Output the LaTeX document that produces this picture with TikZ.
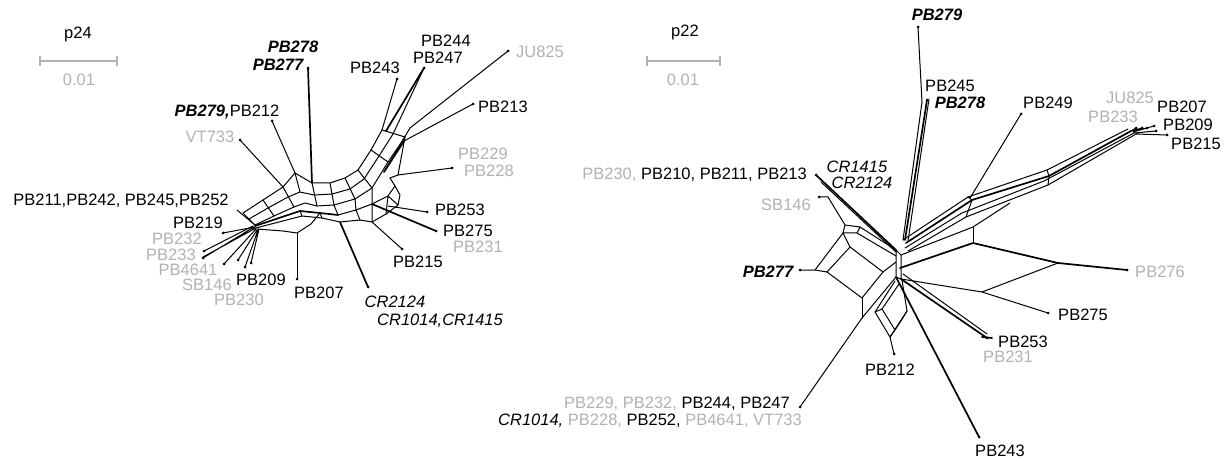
\documentclass[tikz,border=0pt]{standalone}
\usepackage{fontspec}
\setmainfont{Liberation Sans}
\usetikzlibrary{calc}
\definecolor{lg}{gray}{0.70}
\tikzset{
  net/.style={line width=1pt, black, line join=round, line cap=round},
  heavy/.style={net, line width=1.7pt},
  lab/.style={font=\fontsize{16.5}{19}\selectfont, inner sep=0pt, text height=11.8pt, text depth=0pt},
  glab/.style={lab, text=lg},
  ilab/.style={lab, font=\fontsize{16.5}{19}\selectfont\itshape},
  bilab/.style={lab, font=\fontsize{16.5}{19}\selectfont\bfseries\itshape},
  bar/.style={lg, line width=1.2pt}
}
\begin{document}
\begin{tikzpicture}[x=1pt,y=-1pt]
\useasboundingbox (0,0) rectangle (1230,462);

% ---------------- p24 ----------------
\node[lab] (t24) at (78,33) {p24};
\coordinate (sa) at (40,61); \coordinate (sb) at (117,61);
\draw[bar] (sa) -- (sb) ($(sa)+(0,-5)$) -- ($(sa)+(0,5)$) ($(sb)+(0,-5)$) -- ($(sb)+(0,5)$);
\node[glab] (s24) at (79,80) {0.01};

% leaf tips
\foreach \n/\p in {a277/{308,68},a212/{272,121},a733/{240,140},a243/{397,79},a247/{424,68},
  a825/{508,51},a213/{473,104},a229/{452,168},a252/{237,210},a219/{223,233},a232/{204,251},
  a233/{203,258},a4641/{224,264},a146/{238,260},a230/{245,267},a209/{251,263},a207/{297,279},
  a2124/{368,287},a215/{402,249},a275/{436,231},a253/{427,212}}
  \coordinate (\n) at (\p);
\foreach \n in {a277,a212,a733,a243,a247,a825,a213,a229,a219,a232,a233,a4641,a146,a230,a209,a207,a2124,a215,a275,a253}
  \fill (\n) circle (1.5pt);

% arch of boxes
\draw[net] (243,213) -- (263,200) -- (283,187) -- (295,173) -- (312,183) -- (330,183) -- (345,178) -- (358,170) -- (371,150) -- (382,130);
\draw[net] (249,219) -- (268,208) -- (288,197) -- (300,192) -- (314,195) -- (332,194) -- (350,189) -- (364,179) -- (379,156) -- (393,134);
\draw[net] (255,225) -- (274,216) -- (294,207) -- (305,203) -- (317,206) -- (334,205) -- (355,199) -- (372,188) -- (388,162) -- (405,137);
\draw[net] (243,213) -- (255,225) (263,200) -- (274,216) (283,187) -- (294,207)
  (295,173) -- (300,192) (312,183) -- (317,206) (330,183) -- (334,205) (345,178) -- (355,199)
  (358,170) -- (372,188) (371,150) -- (388,162) (382,130) -- (405,137);
% lower strands
\draw[heavy] (255,226) -- (300,211) -- (320,213) -- (338,215);
\draw[net] (252,229) -- (302,216) -- (322,218) -- (340,222);
\draw[net] (257,229) -- (283,231) -- (297,233) -- (311,224) -- (320,213);
\draw[net] (300,211) -- (302,216) (320,213) -- (322,218);
\draw[net] (338,215) -- (356,210) -- (372,204) -- (388,196) -- (395,186) -- (390,178);
\draw[net] (340,222) -- (360,220) -- (372,222) -- (386,214) -- (398,205) -- (400,195) -- (395,186);
\draw[net] (356,210) -- (360,220) (372,204) -- (372,222) (388,196) -- (386,214) (388,196) -- (398,205);
\draw[net] (334,205) -- (338,215) (355,199) -- (356,210) (372,188) -- (372,204);
\draw[net] (405,137) -- (398,175) -- (390,178);
\draw[heavy] (404,141) -- (384,172);
% leaf edges
\draw[heavy] (a277) -- (312,183);
\draw[net] (a212) -- (295,173);
\draw[net] (a733) -- (283,187);
\draw[net] (a243) -- (382,130);
\draw[heavy] (a247) -- (386,131);
\draw[net] (a247) -- (393,134);
\draw[net] (a825) -- (410,128) -- (384,172);
\draw[net] (a213) -- (404,141);
\draw[net] (a229) -- (398,175);
\draw[net] (a252) -- (255,225);
\draw[net] (a219) -- (255,227);
\draw[net] (a232) -- (253,226) (a233) -- (254,227) (203,257) -- (256,228);
\draw[net] (a4641) -- (256,229) (a146) -- (257,230) (a230) -- (258,230) (a209) -- (259,229);
\draw[net] (a207) -- (297,233);
\draw[heavy] (a2124) -- (340,222);
\draw[net] (a215) -- (372,222);
\draw[heavy] (a275) -- (372,204);
\draw[net] (a253) -- (388,206);

% labels
\node[bilab] (n278) at (293,47) {PB278};
\node[bilab] (n277) at (278,65) {PB277};
\node[lab] (n243) at (375,68) {PB243};
\node[lab] (n244) at (446,41) {PB244};
\node[lab] (n247) at (438,58) {PB247};
\node[glab] (n825) at (540,52) {JU825};
\node[lab] (n213) at (503,107) {PB213};
\node[glab] (n229) at (483,154) {PB229};
\node[glab] (n228) at (489,171) {PB228};
\node[lab] (n212) at (227,111) {\bfseries\itshape PB279,\normalfont PB212};
\node[glab] (n733) at (210,137) {VT733};
\node[lab] (n252) at (121,200) {PB211,PB242, PB245,PB252};
\node[lab] (n219) at (198,223) {PB219};
\node[glab] (n232) at (177,239) {PB232};
\node[glab] (n233) at (171,255) {PB233};
\node[glab] (n4641) at (188,270) {PB4641};
\node[glab] (n146) at (207,285) {SB146};
\node[lab] (n209) at (261,280) {PB209};
\node[glab] (n230) at (239,300) {PB230};
\node[lab] (n207) at (319,293) {PB207};
\node[ilab] (n2124) at (395,302) {CR2124};
\node[ilab] (n1014) at (440,320) {CR1014,CR1415};
\node[lab] (n215) at (418,262) {PB215};
\node[lab] (n253) at (460,210) {PB253};
\node[lab] (n275) at (468,231) {PB275};
\node[glab] (n231) at (478,247) {PB231};

% ---------------- p22 ----------------
\node[lab] (t22) at (685,31) {p22};
\coordinate (sc) at (647,61); \coordinate (sd) at (720,61);
\draw[bar] (sc) -- (sd) ($(sc)+(0,-5)$) -- ($(sc)+(0,5)$) ($(sd)+(0,-5)$) -- ($(sd)+(0,5)$);
\node[glab] (s22) at (683,80) {0.01};

\foreach \n/\p in {b279/{918,27},b278/{927,100},b249/{1021,114},b276/{1127,270},b275/{1048,313},
  b253/{987,338},b243/{979,437},b212/{894,354},b244/{800,407},b277/{800,270},b146/{819,197},b213/{816,175},
  r1/{1136,128},r2/{1142,128},r3/{1147,128},r4/{1154,126},r5/{1156,131},r6/{1167,135}}
  \coordinate (\n) at (\p);
\foreach \n in {b279,b278,b249,b276,b275,b253,b243,b212,b244,b277,b146,b213,r1,r2,r3,r4,r5,r6}
  \fill (\n) circle (1.5pt);

% central hub
\coordinate (h1) at (896,250); \coordinate (h2) at (901,255);
\coordinate (h3) at (896,277); \coordinate (h4) at (901,279);
\draw[net] (h1) -- (h2) -- (h4) -- (h3) -- cycle;
% vertical strand
\draw[net] (b279) -- (922,102) -- (903,240);
\draw[heavy] (b278) -- (905,240);
\draw[net] (929,99) -- (908,241);
% long band
\draw[net] (903,240) -- (968,197) -- (1047,170) -- (1128,129);
\draw[heavy] (906,243) -- (972,200) -- (1049,176) -- (1131,131);
\draw[net] (905,248) -- (962,213) -- (1044,181) -- (1134,133);
\draw[net] (908,251) -- (966,217) -- (1048,185) -- (1136,134);
\draw[net] (968,197) -- (972,200) -- (966,217) (1047,170) -- (1049,176) -- (1048,185);
\draw[net] (b249) -- (970,198);
\draw[net] (1131,131) -- (r1) (1131,131) -- (r2) (1131,131) -- (r3) (1133,132) -- (r4) (1134,133) -- (r5) (1136,134) -- (r6);
% right lobe
\draw[net] (h2) -- (973,227) -- (1010,203);
\draw[net] (973,227) -- (973,243);
\draw[heavy] (900,268) -- (973,243) -- (1058,263) -- (b276);
\draw[net] (h4) -- (982,292) -- (1058,263);
\draw[net] (982,292) -- (b275);
\draw[heavy] (h4) -- (b253);
\draw[net] (903,274) -- (987,334);
\draw[heavy] (982,337) -- (992,338);
\draw[heavy] (h3) -- (b243);
% PB212 boxes
\draw[net] (895,281) -- (875,312) -- (890,337) -- (907,311) -- (902,280);
\draw[net] (899,284) -- (882,309) (882,309) -- (895,330) (882,309) -- (875,312) (895,330) -- (890,337) (895,330) -- (904,316) -- (907,311);
\draw[net] (890,337) -- (b212);
% lower-left strand
\draw[net] (h3) -- (862,318) -- (b244);
% left diamonds
\draw[net] (b277) -- (815,270) -- (827,272);
\draw[net] (815,270) -- (843,233);
\draw[net] (827,272) -- (850,247) -- (843,233);
\draw[net] (850,247) -- (883,272) -- (896,262);
\draw[net] (827,272) -- (862,298) -- (883,272);
\draw[net] (862,298) -- (862,318);
\draw[net] (b146) -- (828,197) -- (845,225) -- (860,227) -- (857,233) -- (843,233) -- (845,225);
\draw[net] (857,233) -- (896,256);
\draw[net] (860,227) -- (h1);
\draw[heavy] (b213) -- (h1);
\draw[net] (821,182) -- (896,252);

\node[bilab] (m279) at (937,15) {PB279};
\node[lab] (m245) at (950,86) {PB245};
\node[bilab] (m278) at (960,103) {PB278};
\node[lab] (m249) at (1048,103) {PB249};
\node[glab] (m825) at (1130,98) {JU825};
\node[glab] (m233) at (1113,117) {PB233};
\node[lab] (m207) at (1182,107) {PB207};
\node[lab] (m209) at (1188,125) {PB209};
\node[lab] (m215) at (1196,144) {PB215};
\node[ilab] (m1415) at (857,167) {CR1415};
\node[ilab] (m2124) at (862,183) {CR2124};
\node[lab, anchor=east] (m213) at (807,174) {\color{lg}PB230, \color{black}PB210, PB211, PB213};
\node[glab] (m146) at (786,205) {SB146};
\node[bilab] (m277) at (768,272) {PB277};
\node[glab] (m276) at (1160,272) {PB276};
\node[lab] (m275) at (1083,315) {PB275};
\node[lab] (m253) at (1023,342) {PB253};
\node[glab] (m231) at (1008,357) {PB231};
\node[lab] (m212) at (890,370) {PB212};
\node[lab] (m243) at (1000,451) {PB243};
\node[lab, anchor=east] (m244) at (790,403) {\color{lg}PB229, PB232, \color{black}PB244, PB247};
\node[lab, anchor=east] (m252) at (802,420) {\itshape CR1014, \normalfont\color{lg}PB228, \color{black}PB252, \color{lg}PB4641, VT733};
\end{tikzpicture}
\end{document}
